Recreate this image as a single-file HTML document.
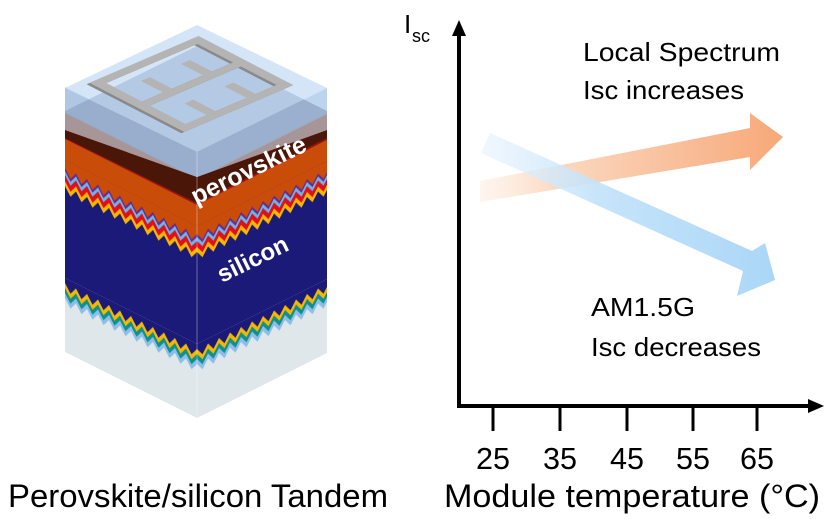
<!DOCTYPE html>
<html><head><meta charset="utf-8"><style>
html,body{margin:0;padding:0;background:#fff;}
svg{display:block;}
text{font-family:"Liberation Sans",sans-serif;}
</style></head><body>
<svg width="828" height="519" viewBox="0 0 828 519" xmlns="http://www.w3.org/2000/svg">
<defs>
<pattern id="zig1" patternUnits="userSpaceOnUse" x="0" y="160" width="11" height="50">
  <rect width="11" height="50" fill="#1c1a78"/>
  <polygon points="0,0 11,0 11,26 5.5,34 0,26" fill="#f5b800"/>
  <polygon points="0,0 11,0 11,21 5.5,29 0,21" fill="#e0101a"/>
  <polygon points="0,0 11,0 11,15 5.5,23 0,15" fill="#6fb4e8"/>
  <polygon points="0,0 11,0 11,11 5.5,19 0,11" fill="#6a2a8a"/>
  <polygon points="0,0 11,0 11,8 5.5,16 0,8" fill="#c94c08"/>
</pattern>
<pattern id="zig2" patternUnits="userSpaceOnUse" x="0" y="278" width="11" height="40">
  <rect width="11" height="40" fill="#dfe7ea"/>
  <polygon points="0,0 11,0 11,20 5.5,28 0,20" fill="#8ebde8"/>
  <polygon points="0,0 11,0 11,15 5.5,23 0,15" fill="#0e9090"/>
  <polygon points="0,0 11,0 11,10 5.5,18 0,10" fill="#f5b800"/>
  <polygon points="0,0 11,0 11,5 5.5,13 0,5" fill="#1c1a78"/>
</pattern>
<linearGradient id="og" x1="480" y1="0" x2="783" y2="0" gradientUnits="userSpaceOnUse">
  <stop offset="0" stop-color="#fde7d8" stop-opacity="0.4"/>
  <stop offset="0.25" stop-color="#fbd9c2"/>
  <stop offset="1" stop-color="#f7a878"/>
</linearGradient>
<linearGradient id="bg" x1="480" y1="0" x2="775" y2="0" gradientUnits="userSpaceOnUse">
  <stop offset="0" stop-color="#e8f4fd" stop-opacity="0.7"/>
  <stop offset="0.4" stop-color="#c2e2fa"/>
  <stop offset="1" stop-color="#a3d3f6"/>
</linearGradient>
</defs>

<g transform="matrix(1,0.5,0,1,65,0)">
  <rect x="0" y="87" width="132" height="27" fill="#bcd3ee"/>
  <rect x="0" y="113" width="132" height="18" fill="#e59a72"/>
  <rect x="0" y="130" width="132" height="10" fill="#9a1414"/>
  <rect x="0" y="139" width="132" height="31" fill="#c94c08"/>
  <rect x="0" y="160" width="132" height="50" fill="url(#zig1)"/>
  <rect x="0" y="209" width="132" height="70" fill="#1c1a78"/>
  <rect x="0" y="278" width="132" height="40" fill="url(#zig2)"/>
  <rect x="0" y="317" width="132" height="35" fill="#dfe7ea"/>
</g>
<g transform="matrix(1,-0.5,0,1,197,66)">
  <rect x="0" y="87" width="130" height="27" fill="#c3daf3"/>
  <rect x="0" y="113" width="130" height="18" fill="#e59a72"/>
  <rect x="0" y="130" width="130" height="10" fill="#9a1414"/>
  <rect x="0" y="139" width="130" height="31" fill="#c94c08"/>
  <rect x="0" y="160" width="130" height="50" fill="url(#zig1)"/>
  <rect x="0" y="209" width="130" height="70" fill="#1c1a78"/>
  <rect x="0" y="278" width="130" height="40" fill="url(#zig2)"/>
  <rect x="0" y="317" width="130" height="35" fill="#dfe7ea"/>
</g>
<!-- dark inner band -->
<polygon points="65,130 197,177 327,130 327,138 197,203 65,138" fill="#4a1608"/>
<!-- inner gray top face -->
<polygon points="65,111 197,46 327,111 197,177" fill="#7f93b2"/>
<polygon points="65,111 197,177 65,130" fill="#7f93b2" opacity="0.6"/>
<polygon points="327,111 197,177 327,130" fill="#7f93b2" opacity="0.6"/>
<!-- glass top face -->
<polygon points="197,25 327,88 197,152 65,88" fill="#c6dcf4" opacity="0.75"/>
<polygon points="65,88 197,152 197,177 65,111" fill="#a9bfdd" opacity="0.6"/>
<polygon points="327,88 197,152 197,177 327,111" fill="#b7cde9" opacity="0.5"/>
<line x1="197" y1="152" x2="197" y2="417" stroke="#ffffff" stroke-opacity="0.35" stroke-width="1"/>

<!-- electrode grid -->
<g transform="matrix(0.87,0.45,-1.0,0.43,198,40)" fill="none">
  <g stroke="#8a8a8a" stroke-width="9" transform="translate(0,3)">
    <rect x="0" y="0" width="100" height="100"/>
    <line x1="50" y1="0" x2="50" y2="100"/>
  </g>
  <g stroke="#b4b4b4" stroke-width="9">
    <rect x="0" y="0" width="100" height="100"/>
    <line x1="50" y1="0" x2="50" y2="100"/>
    <line x1="50" y1="30" x2="20" y2="30"/>
    <line x1="50" y1="70" x2="20" y2="70"/>
    <line x1="100" y1="30" x2="70" y2="30"/>
    <line x1="100" y1="70" x2="70" y2="70"/>
  </g>
</g>

<text x="196" y="205" font-size="25" font-weight="bold" fill="#fff" transform="rotate(-26 196 205)">perovskite</text>
<text x="222" y="283" font-size="24" font-weight="bold" fill="#fff" transform="rotate(-26 222 283)">silicon</text>

<!-- chart -->
<polygon points="480,181 750,128 750,113 783,137 750,170 750,157 480,202" fill="url(#og)"/>
<polygon points="490,133 752,251 765,243 775,280 737,296 743,271 481,153" fill="url(#bg)" opacity="0.92"/>

<line x1="459" y1="32" x2="459" y2="406" stroke="#000" stroke-width="4"/>
<polygon points="452,36 459,20 466,36" fill="#000"/>
<line x1="457" y1="406" x2="812" y2="406" stroke="#000" stroke-width="4"/>
<polygon points="808,399 824,406 808,413" fill="#000"/>
<g stroke="#000" stroke-width="3">
<line x1="493" y1="406" x2="493" y2="431"/>
<line x1="560" y1="406" x2="560" y2="431"/>
<line x1="627" y1="406" x2="627" y2="431"/>
<line x1="693" y1="406" x2="693" y2="431"/>
<line x1="757" y1="406" x2="757" y2="431"/>
</g>
<g font-size="31" fill="#000" text-anchor="middle">
<text x="493" y="469" textLength="34" lengthAdjust="spacingAndGlyphs">25</text>
<text x="560" y="469" textLength="34" lengthAdjust="spacingAndGlyphs">35</text>
<text x="627" y="469" textLength="34" lengthAdjust="spacingAndGlyphs">45</text>
<text x="693" y="469" textLength="34" lengthAdjust="spacingAndGlyphs">55</text>
<text x="757" y="469" textLength="34" lengthAdjust="spacingAndGlyphs">65</text>
</g>
<text x="404" y="33" font-size="26" fill="#000">I</text>
<text x="412" y="42" font-size="18" fill="#000">sc</text>

<g font-size="26" fill="#000">
<text x="583" y="61" textLength="197" lengthAdjust="spacingAndGlyphs">Local Spectrum</text>
<text x="583" y="99" textLength="161" lengthAdjust="spacingAndGlyphs">Isc increases</text>
<text x="591" y="316" textLength="104" lengthAdjust="spacingAndGlyphs">AM1.5G</text>
<text x="591" y="356" textLength="170" lengthAdjust="spacingAndGlyphs">Isc decreases</text>
</g>
<g font-size="32" fill="#000">
<text x="8" y="507" textLength="380" lengthAdjust="spacingAndGlyphs">Perovskite/silicon Tandem</text>
<text x="444" y="507" textLength="376" lengthAdjust="spacingAndGlyphs">Module temperature (°C)</text>
</g>
</svg>
</body></html>
